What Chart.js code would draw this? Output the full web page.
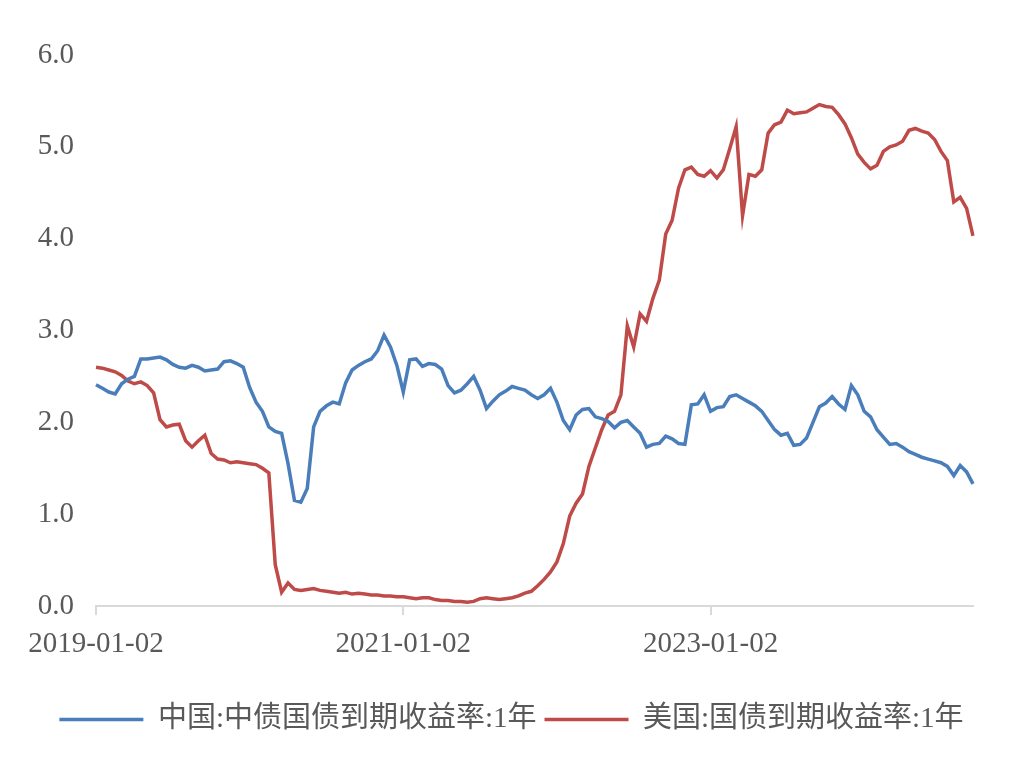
<!DOCTYPE html>
<html>
<head>
<meta charset="utf-8">
<script src="https://cdn.jsdelivr.net/npm/chart.js@4.4.1/dist/chart.umd.min.js"></script>
<style>
  html, body { margin: 0; padding: 0; background: #fff; }
  #wrap { width: 1025px; height: 772px; }
</style>
</head>
<body>
<div id="wrap"><canvas id="myChart" width="1025" height="772"></canvas></div>
<script>
// half-monthly dates, 2019-01-02 .. 2024-09-16
let dates = [];
for (let y = 2019; y <= 2024; y++) {
    for (let m = 1; m <= 12; m++) {
        if (y === 2024 && m > 9) break;
        const mm = (m < 10 ? '0' : '') + m;
        dates.push(y + '-' + mm + '-02');
        dates.push(y + '-' + mm + '-16');
    }
}
const tickDates = ['2019-01-02', '2021-01-02', '2023-01-02'];
const yTicks = [0, 1, 2, 3, 4, 5, 6];

const seriesNames = ['中国:中债国债到期收益率:1年', '美国:国债到期收益率:1年'];

const chinaYield = [
    2.41, 2.37, 2.33, 2.31, 2.42, 2.47, 2.50, 2.69, 2.69, 2.70,
    2.71, 2.68, 2.63, 2.60, 2.59, 2.62, 2.60, 2.56, 2.57, 2.58,
    2.66, 2.67, 2.64, 2.60, 2.38, 2.22, 2.12, 1.95, 1.90, 1.88,
    1.55, 1.15, 1.13, 1.28, 1.95, 2.12, 2.18, 2.22, 2.20, 2.43,
    2.57, 2.62, 2.66, 2.69, 2.78, 2.95, 2.82, 2.62, 2.33, 2.68,
    2.69, 2.61, 2.64, 2.63, 2.58, 2.40, 2.32, 2.35, 2.42, 2.50,
    2.35, 2.15, 2.23, 2.30, 2.34, 2.39, 2.37, 2.35, 2.30, 2.26,
    2.30, 2.37, 2.22, 2.02, 1.92, 2.08, 2.14, 2.15, 2.06, 2.04,
    2.01, 1.94, 2.00, 2.02, 1.95, 1.88, 1.73, 1.76, 1.77, 1.85,
    1.82, 1.77, 1.76, 2.19, 2.20, 2.30, 2.12, 2.16, 2.17, 2.28,
    2.30, 2.26, 2.22, 2.18, 2.12, 2.02, 1.92, 1.86, 1.88, 1.75,
    1.76, 1.83, 2.00, 2.17, 2.21, 2.28, 2.20, 2.14, 2.40, 2.30,
    2.12, 2.06, 1.92, 1.84, 1.76, 1.77, 1.73, 1.68, 1.65, 1.62,
    1.60, 1.58, 1.56, 1.52, 1.42, 1.53, 1.46, 1.33
];

const usYield = [
    2.60, 2.59, 2.57, 2.55, 2.51, 2.45, 2.42, 2.44, 2.40, 2.32,
    2.03, 1.95, 1.97, 1.98, 1.80, 1.73, 1.80, 1.86, 1.66, 1.60,
    1.59, 1.56, 1.57, 1.56, 1.55, 1.54, 1.50, 1.45, 0.45, 0.15,
    0.25, 0.18, 0.17, 0.18, 0.19, 0.17, 0.16, 0.15, 0.14, 0.15,
    0.13, 0.14, 0.13, 0.12, 0.12, 0.11, 0.11, 0.10, 0.10, 0.09,
    0.08, 0.09, 0.09, 0.07, 0.06, 0.06, 0.05, 0.05, 0.04, 0.05,
    0.08, 0.09, 0.08, 0.07, 0.08, 0.09, 0.11, 0.14, 0.16, 0.22,
    0.29, 0.37, 0.48, 0.68, 0.98, 1.12, 1.22, 1.52, 1.72, 1.92,
    2.08, 2.12, 2.30, 3.05, 2.82, 3.18, 3.10, 3.35, 3.55, 4.05,
    4.20, 4.55, 4.75, 4.78, 4.70, 4.68, 4.74, 4.66, 4.75, 4.98,
    5.22, 4.25, 4.70, 4.68, 4.75, 5.15, 5.24, 5.27, 5.40, 5.36,
    5.37, 5.38, 5.42, 5.46, 5.44, 5.43, 5.35, 5.25, 5.10, 4.92,
    4.83, 4.76, 4.80, 4.95, 5.00, 5.02, 5.06, 5.18, 5.20, 5.17,
    5.15, 5.08, 4.95, 4.85, 4.40, 4.45, 4.33, 4.03
];

const blue = '#4a7ebb';
const red = '#be4b48';
const textColor = '#595959';
const axisColor = '#d9d9d9';
const fontFamily = '"Liberation Serif", "Noto Sans CJK SC", serif';

function createGraph() {
    const ctx = document.getElementById('myChart');

    new Chart(ctx, {
        type: 'line',
        data: {
            labels: dates,
            datasets: [{
                label: seriesNames[0],
                data: chinaYield,
                borderColor: blue,
                backgroundColor: blue,
                borderWidth: 3.5,
                pointRadius: 0,
                tension: 0
            }, {
                label: seriesNames[1],
                data: usYield,
                borderColor: red,
                backgroundColor: red,
                borderWidth: 3.5,
                pointRadius: 0,
                tension: 0
            }]
        },
        options: {
            responsive: false,
            animation: false,
            layout: {
                // legend is centred between left and right padding
                padding: { left: 25, right: 27, top: 55, bottom: 28 }
            },
            plugins: {
                tooltip: { enabled: false },
                legend: {
                    position: 'bottom',
                    labels: {
                        color: textColor,
                        font: { family: fontFamily, size: 29 },
                        usePointStyle: true,
                        pointStyle: 'line',
                        pointStyleWidth: 84,
                        padding: 8
                    }
                }
            },
            scales: {
                x: {
                    type: 'category',
                    offset: false,
                    border: { display: true, color: axisColor, width: 2 },
                    grid: {
                        drawOnChartArea: false,
                        drawTicks: true,
                        tickLength: 9,
                        lineWidth: 2,
                        color: (c) => tickDates.includes(dates[c.index]) ? axisColor : 'rgba(0,0,0,0)'
                    },
                    ticks: {
                        autoSkip: false,
                        maxRotation: 0,
                        minRotation: 0,
                        padding: 12,
                        color: textColor,
                        font: { family: fontFamily, size: 29 },
                        callback: function (val, i) {
                            return tickDates.includes(dates[i]) ? dates[i] : '';
                        }
                    },
                    afterFit: (scale) => {
                        scale.height = 91;
                        scale.paddingRight = 52;
                    }
                },
                y: {
                    min: yTicks[0],
                    max: yTicks[yTicks.length - 1],
                    border: { display: false },
                    grid: { display: false },
                    afterBuildTicks: (scale) => {
                        scale.ticks = yTicks.map(v => ({ value: v }));
                    },
                    ticks: {
                        padding: 14,
                        color: textColor,
                        font: { family: fontFamily, size: 29 },
                        callback: (v) => Number(v).toFixed(1)
                    },
                    afterFit: (scale) => { scale.width = 71; }
                }
            }
        }
    });
}

createGraph();
</script>
</body>
</html>
